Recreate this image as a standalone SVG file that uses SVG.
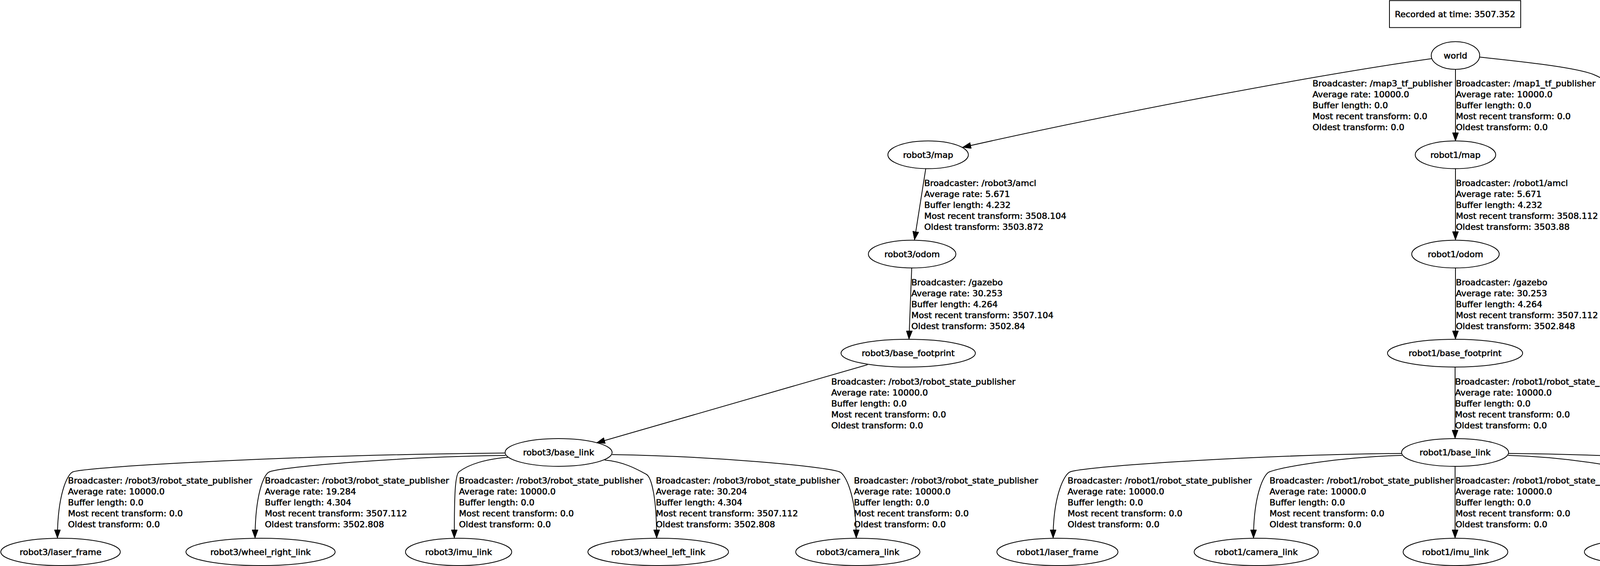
<svg xmlns="http://www.w3.org/2000/svg" width="7770" height="1448" viewBox="0 0 7770 1448">
<style>
.bg{fill:#ffffff}
.n ellipse{fill:none;stroke:#000;stroke-width:2}
.n text,.t{font-family:"DejaVu Sans","Liberation Sans",sans-serif;font-size:22px;fill:#000;stroke:#000;stroke-width:0.7}
.n text{text-anchor:middle}
.e{fill:none;stroke:#000;stroke-width:2;marker-end:url(#ah)}
.box{fill:none;stroke:#000;stroke-width:2}
</style>
<defs>
<marker id="ah" markerUnits="userSpaceOnUse" viewBox="0 0 22 16" refX="22" refY="8" markerWidth="22" markerHeight="16" orient="auto"><path d="M0,0 L22,8 L0,16 z" fill="#000" stroke="#000" stroke-width="1"/></marker>
</defs>
<rect class="bg" x="0" y="0" width="7770" height="1448"/>

<g id="recorded" class="n">
<rect class="box" x="3557" y="1.5" width="336" height="69"/>
<text x="3725" y="44">Recorded at time: 3507.352</text>
</g>

<g id="edges">
<path class="e" d="M3665,150 C3350,195 2850,290 2464,377"/>
<path class="e" d="M3726,177 L3726,361"/>
<path class="e" d="M3787,146 C3900,158 4030,172 4078,190 C4140,215 4215,285 4267,361"/>
<path class="e" d="M2370,431 L2341,614"/>
<path class="e" d="M3726,431 L3726,614"/>
<path class="e" d="M4317,431 L4435,615"/>
<path class="e" d="M2334,685 L2327,868"/>
<path class="e" d="M3726,685 L3726,868"/>
<path class="e" d="M4501,683 L4737,868"/>
<path class="e" d="M2221,933 L1527,1133"/>
<path class="e" d="M3725,938 L3725,1122"/>
<path class="e" d="M4908,928 L5908,1137"/>
<path class="e" d="M1293,1159 C795,1163 227,1193 187,1207 C172,1212 147,1267 147,1377"/>
<path class="e" d="M1294,1165 C1022,1169 730,1193 690,1207 C675,1212 653,1267 653,1377"/>
<path class="e" d="M1300,1170 C1244,1174 1200,1188 1175,1207 C1165,1215 1163,1267 1163,1377"/>
<path class="e" d="M1548,1177 C1596,1181 1630,1200 1654,1213 C1668,1220 1681,1273 1681,1377"/>
<path class="e" d="M1567,1163 C1829,1167 2109,1193 2149,1207 C2164,1212 2192,1267 2192,1377"/>
<path class="e" d="M3589,1160 C3207,1164 2780,1193 2740,1207 C2725,1212 2696,1267 2696,1377"/>
<path class="e" d="M3589,1165 C3436,1169 3290,1193 3250,1207 C3235,1212 3209,1267 3209,1377"/>
<path class="e" d="M3725,1193 L3725,1377"/>
<path class="e" d="M3861,1165 C4007,1169 4146,1193 4186,1207 C4201,1212 4230,1267 4230,1377"/>
<path class="e" d="M3862,1160 C4237,1164 4656,1193 4696,1207 C4711,1212 4749,1267 4749,1377"/>
<path class="e" d="M5882,1163 C5608,1167 5314,1193 5274,1207 C5259,1212 5241,1267 5241,1377"/>
<path class="e" d="M5890,1170 C5832,1174 5787,1198 5762,1212 C5752,1220 5749,1273 5749,1377"/>
<path class="e" d="M6141,1176 C6181,1180 6205,1195 6230,1207 C6245,1214 6270,1267 6270,1377"/>
<path class="e" d="M6156,1163 C6419,1167 6700,1193 6740,1207 C6755,1212 6780,1267 6780,1377"/>
<path class="e" d="M6158,1159 C6649,1163 7210,1193 7250,1207 C7265,1212 7300,1267 7300,1377"/>
</g>

<g id="edge-labels">
<text class="t" y="221"><tspan x="3360">Broadcaster: /map3_tf_publisher</tspan><tspan x="3360" dy="28">Average rate: 10000.0</tspan><tspan x="3360" dy="28">Buffer length: 0.0</tspan><tspan x="3360" dy="28">Most recent transform: 0.0</tspan><tspan x="3360" dy="28">Oldest transform: 0.0</tspan></text>
<text class="t" y="221"><tspan x="3727">Broadcaster: /map1_tf_publisher</tspan><tspan x="3727" dy="28">Average rate: 10000.0</tspan><tspan x="3727" dy="28">Buffer length: 0.0</tspan><tspan x="3727" dy="28">Most recent transform: 0.0</tspan><tspan x="3727" dy="28">Oldest transform: 0.0</tspan></text>
<text class="t" y="221"><tspan x="4255">Broadcaster: /map2_tf_publisher</tspan><tspan x="4255" dy="28">Average rate: 10000.0</tspan><tspan x="4255" dy="28">Buffer length: 0.0</tspan><tspan x="4255" dy="28">Most recent transform: 0.0</tspan><tspan x="4255" dy="28">Oldest transform: 0.0</tspan></text>

<text class="t" y="476"><tspan x="2366">Broadcaster: /robot3/amcl</tspan><tspan x="2366" dy="28">Average rate: 5.671</tspan><tspan x="2366" dy="28">Buffer length: 4.232</tspan><tspan x="2366" dy="28">Most recent transform: 3508.104</tspan><tspan x="2366" dy="28">Oldest transform: 3503.872</tspan></text>
<text class="t" y="476"><tspan x="3727">Broadcaster: /robot1/amcl</tspan><tspan x="3727" dy="28">Average rate: 5.671</tspan><tspan x="3727" dy="28">Buffer length: 4.232</tspan><tspan x="3727" dy="28">Most recent transform: 3508.112</tspan><tspan x="3727" dy="28">Oldest transform: 3503.88</tspan></text>
<text class="t" y="476"><tspan x="4422">Broadcaster: /robot2/amcl</tspan><tspan x="4422" dy="28">Average rate: 5.682</tspan><tspan x="4422" dy="28">Buffer length: 4.048</tspan><tspan x="4422" dy="28">Most recent transform: 3507.936</tspan><tspan x="4422" dy="28">Oldest transform: 3503.888</tspan></text>

<text class="t" y="730"><tspan x="2333">Broadcaster: /gazebo</tspan><tspan x="2333" dy="28">Average rate: 30.253</tspan><tspan x="2333" dy="28">Buffer length: 4.264</tspan><tspan x="2333" dy="28">Most recent transform: 3507.104</tspan><tspan x="2333" dy="28">Oldest transform: 3502.84</tspan></text>
<text class="t" y="730"><tspan x="3727">Broadcaster: /gazebo</tspan><tspan x="3727" dy="28">Average rate: 30.253</tspan><tspan x="3727" dy="28">Buffer length: 4.264</tspan><tspan x="3727" dy="28">Most recent transform: 3507.112</tspan><tspan x="3727" dy="28">Oldest transform: 3502.848</tspan></text>
<text class="t" y="730"><tspan x="4712">Broadcaster: /gazebo</tspan><tspan x="4712" dy="28">Average rate: 30.253</tspan><tspan x="4712" dy="28">Buffer length: 4.264</tspan><tspan x="4712" dy="28">Most recent transform: 3507.088</tspan><tspan x="4712" dy="28">Oldest transform: 3502.824</tspan></text>

<text class="t" y="984"><tspan x="2128">Broadcaster: /robot3/robot_state_publisher</tspan><tspan x="2128" dy="28">Average rate: 10000.0</tspan><tspan x="2128" dy="28">Buffer length: 0.0</tspan><tspan x="2128" dy="28">Most recent transform: 0.0</tspan><tspan x="2128" dy="28">Oldest transform: 0.0</tspan></text>
<text class="t" y="984"><tspan x="3725">Broadcaster: /robot1/robot_state_publisher</tspan><tspan x="3725" dy="28">Average rate: 10000.0</tspan><tspan x="3725" dy="28">Buffer length: 0.0</tspan><tspan x="3725" dy="28">Most recent transform: 0.0</tspan><tspan x="3725" dy="28">Oldest transform: 0.0</tspan></text>
<text class="t" y="984"><tspan x="5750">Broadcaster: /robot2/robot_state_publisher</tspan><tspan x="5750" dy="28">Average rate: 10000.0</tspan><tspan x="5750" dy="28">Buffer length: 0.0</tspan><tspan x="5750" dy="28">Most recent transform: 0.0</tspan><tspan x="5750" dy="28">Oldest transform: 0.0</tspan></text>

<text class="t" y="1237"><tspan x="174">Broadcaster: /robot3/robot_state_publisher</tspan><tspan x="174" dy="28">Average rate: 10000.0</tspan><tspan x="174" dy="28">Buffer length: 0.0</tspan><tspan x="174" dy="28">Most recent transform: 0.0</tspan><tspan x="174" dy="28">Oldest transform: 0.0</tspan></text>
<text class="t" y="1237"><tspan x="678">Broadcaster: /robot3/robot_state_publisher</tspan><tspan x="678" dy="28">Average rate: 19.284</tspan><tspan x="678" dy="28">Buffer length: 4.304</tspan><tspan x="678" dy="28">Most recent transform: 3507.112</tspan><tspan x="678" dy="28">Oldest transform: 3502.808</tspan></text>
<text class="t" y="1237"><tspan x="1175">Broadcaster: /robot3/robot_state_publisher</tspan><tspan x="1175" dy="28">Average rate: 10000.0</tspan><tspan x="1175" dy="28">Buffer length: 0.0</tspan><tspan x="1175" dy="28">Most recent transform: 0.0</tspan><tspan x="1175" dy="28">Oldest transform: 0.0</tspan></text>
<text class="t" y="1237"><tspan x="1679">Broadcaster: /robot3/robot_state_publisher</tspan><tspan x="1679" dy="28">Average rate: 30.204</tspan><tspan x="1679" dy="28">Buffer length: 4.304</tspan><tspan x="1679" dy="28">Most recent transform: 3507.112</tspan><tspan x="1679" dy="28">Oldest transform: 3502.808</tspan></text>
<text class="t" y="1237"><tspan x="2186">Broadcaster: /robot3/robot_state_publisher</tspan><tspan x="2186" dy="28">Average rate: 10000.0</tspan><tspan x="2186" dy="28">Buffer length: 0.0</tspan><tspan x="2186" dy="28">Most recent transform: 0.0</tspan><tspan x="2186" dy="28">Oldest transform: 0.0</tspan></text>
<text class="t" y="1237"><tspan x="2733">Broadcaster: /robot1/robot_state_publisher</tspan><tspan x="2733" dy="28">Average rate: 10000.0</tspan><tspan x="2733" dy="28">Buffer length: 0.0</tspan><tspan x="2733" dy="28">Most recent transform: 0.0</tspan><tspan x="2733" dy="28">Oldest transform: 0.0</tspan></text>
<text class="t" y="1237"><tspan x="3250">Broadcaster: /robot1/robot_state_publisher</tspan><tspan x="3250" dy="28">Average rate: 10000.0</tspan><tspan x="3250" dy="28">Buffer length: 0.0</tspan><tspan x="3250" dy="28">Most recent transform: 0.0</tspan><tspan x="3250" dy="28">Oldest transform: 0.0</tspan></text>
<text class="t" y="1237"><tspan x="3726">Broadcaster: /robot1/robot_state_publisher</tspan><tspan x="3726" dy="28">Average rate: 10000.0</tspan><tspan x="3726" dy="28">Buffer length: 0.0</tspan><tspan x="3726" dy="28">Most recent transform: 0.0</tspan><tspan x="3726" dy="28">Oldest transform: 0.0</tspan></text>
<text class="t" y="1237"><tspan x="4226">Broadcaster: /robot1/robot_state_publisher</tspan><tspan x="4226" dy="28">Average rate: 30.268</tspan><tspan x="4226" dy="28">Buffer length: 4.328</tspan><tspan x="4226" dy="28">Most recent transform: 3507.112</tspan><tspan x="4226" dy="28">Oldest transform: 3502.784</tspan></text>
<text class="t" y="1237"><tspan x="4746">Broadcaster: /robot1/robot_state_publisher</tspan><tspan x="4746" dy="28">Average rate: 19.786</tspan><tspan x="4746" dy="28">Buffer length: 4.296</tspan><tspan x="4746" dy="28">Most recent transform: 3507.08</tspan><tspan x="4746" dy="28">Oldest transform: 3502.784</tspan></text>
<text class="t" y="1237"><tspan x="5266">Broadcaster: /robot2/robot_state_publisher</tspan><tspan x="5266" dy="28">Average rate: 10000.0</tspan><tspan x="5266" dy="28">Buffer length: 0.0</tspan><tspan x="5266" dy="28">Most recent transform: 0.0</tspan><tspan x="5266" dy="28">Oldest transform: 0.0</tspan></text>
<text class="t" y="1237"><tspan x="5762">Broadcaster: /robot2/robot_state_publisher</tspan><tspan x="5762" dy="28">Average rate: 18.622</tspan><tspan x="5762" dy="28">Buffer length: 4.296</tspan><tspan x="5762" dy="28">Most recent transform: 3507.096</tspan><tspan x="5762" dy="28">Oldest transform: 3502.8</tspan></text>
<text class="t" y="1237"><tspan x="6265">Broadcaster: /robot2/robot_state_publisher</tspan><tspan x="6265" dy="28">Average rate: 10000.0</tspan><tspan x="6265" dy="28">Buffer length: 0.0</tspan><tspan x="6265" dy="28">Most recent transform: 0.0</tspan><tspan x="6265" dy="28">Oldest transform: 0.0</tspan></text>
<text class="t" y="1237"><tspan x="6775">Broadcaster: /robot2/robot_state_publisher</tspan><tspan x="6775" dy="28">Average rate: 30.261</tspan><tspan x="6775" dy="28">Buffer length: 4.296</tspan><tspan x="6775" dy="28">Most recent transform: 3507.096</tspan><tspan x="6775" dy="28">Oldest transform: 3502.8</tspan></text>
<text class="t" y="1237"><tspan x="7296">Broadcaster: /robot2/robot_state_publisher</tspan><tspan x="7296" dy="28">Average rate: 10000.0</tspan><tspan x="7296" dy="28">Buffer length: 0.0</tspan><tspan x="7296" dy="28">Most recent transform: 0.0</tspan><tspan x="7296" dy="28">Oldest transform: 0.0</tspan></text>
</g>

<g id="world" class="n"><ellipse cx="3726" cy="142" rx="62" ry="35.5"/><text x="3726" y="150">world</text></g>
<g id="robot3_map" class="n"><ellipse cx="2376" cy="396" rx="103" ry="35.5"/><text x="2376" y="404">robot3/map</text></g>
<g id="robot1_map" class="n"><ellipse cx="3726" cy="396" rx="103" ry="35.5"/><text x="3726" y="404">robot1/map</text></g>
<g id="robot2_map" class="n"><ellipse cx="4293" cy="396" rx="103" ry="35.5"/><text x="4293" y="404">robot2/map</text></g>
<g id="robot3_odom" class="n"><ellipse cx="2335" cy="650" rx="112" ry="35.5"/><text x="2335" y="658">robot3/odom</text></g>
<g id="robot1_odom" class="n"><ellipse cx="3726" cy="650" rx="112" ry="35.5"/><text x="3726" y="658">robot1/odom</text></g>
<g id="robot2_odom" class="n"><ellipse cx="4457" cy="650" rx="112" ry="35.5"/><text x="4457" y="658">robot2/odom</text></g>
<g id="robot3_base_footprint" class="n"><ellipse cx="2325" cy="903.5" rx="172" ry="35.5"/><text x="2325" y="911">robot3/base_footprint</text></g>
<g id="robot1_base_footprint" class="n"><ellipse cx="3725" cy="903.5" rx="173" ry="35.5"/><text x="3725" y="911">robot1/base_footprint</text></g>
<g id="robot2_base_footprint" class="n"><ellipse cx="4781" cy="903.5" rx="172" ry="35.5"/><text x="4781" y="911">robot2/base_footprint</text></g>
<g id="robot3_base_link" class="n"><ellipse cx="1430" cy="1157.5" rx="137" ry="35.5"/><text x="1430" y="1165">robot3/base_link</text></g>
<g id="robot1_base_link" class="n"><ellipse cx="3725" cy="1157.5" rx="137" ry="35.5"/><text x="3725" y="1165">robot1/base_link</text></g>
<g id="robot2_base_link" class="n"><ellipse cx="6019" cy="1157.5" rx="137" ry="35.5"/><text x="6019" y="1165">robot2/base_link</text></g>
<g id="robot3_laser_frame" class="n"><ellipse cx="155" cy="1412" rx="153" ry="35"/><text x="155" y="1420">robot3/laser_frame</text></g>
<g id="robot3_wheel_right_link" class="n"><ellipse cx="667" cy="1412" rx="191" ry="35"/><text x="667" y="1420">robot3/wheel_right_link</text></g>
<g id="robot3_imu_link" class="n"><ellipse cx="1174" cy="1412" rx="136" ry="35"/><text x="1174" y="1420">robot3/imu_link</text></g>
<g id="robot3_wheel_left_link" class="n"><ellipse cx="1685" cy="1412" rx="180" ry="35"/><text x="1685" y="1420">robot3/wheel_left_link</text></g>
<g id="robot3_camera_link" class="n"><ellipse cx="2196" cy="1412" rx="159" ry="35"/><text x="2196" y="1420">robot3/camera_link</text></g>
<g id="robot1_laser_frame" class="n"><ellipse cx="2707" cy="1412" rx="155" ry="35"/><text x="2707" y="1420">robot1/laser_frame</text></g>
<g id="robot1_camera_link" class="n"><ellipse cx="3216" cy="1412" rx="159" ry="35"/><text x="3216" y="1420">robot1/camera_link</text></g>
<g id="robot1_imu_link" class="n"><ellipse cx="3726" cy="1412" rx="134" ry="35"/><text x="3726" y="1420">robot1/imu_link</text></g>
<g id="robot1_wheel_left_link" class="n"><ellipse cx="4236" cy="1412" rx="180" ry="35"/><text x="4236" y="1420">robot1/wheel_left_link</text></g>
<g id="robot1_wheel_right_link" class="n"><ellipse cx="4745" cy="1412" rx="191" ry="35"/><text x="4745" y="1420">robot1/wheel_right_link</text></g>
<g id="robot2_imu_link" class="n"><ellipse cx="5255" cy="1412" rx="134" ry="35"/><text x="5255" y="1420">robot2/imu_link</text></g>
<g id="robot2_wheel_right_link" class="n"><ellipse cx="5765" cy="1412" rx="190" ry="35"/><text x="5765" y="1420">robot2/wheel_right_link</text></g>
<g id="robot2_camera_link" class="n"><ellipse cx="6276" cy="1412" rx="158" ry="35"/><text x="6276" y="1420">robot2/camera_link</text></g>
<g id="robot2_wheel_left_link" class="n"><ellipse cx="6785" cy="1412" rx="179" ry="35"/><text x="6785" y="1420">robot2/wheel_left_link</text></g>
<g id="robot2_laser_frame" class="n"><ellipse cx="7295" cy="1412" rx="154" ry="35"/><text x="7295" y="1420">robot2/laser_frame</text></g>
</svg>
